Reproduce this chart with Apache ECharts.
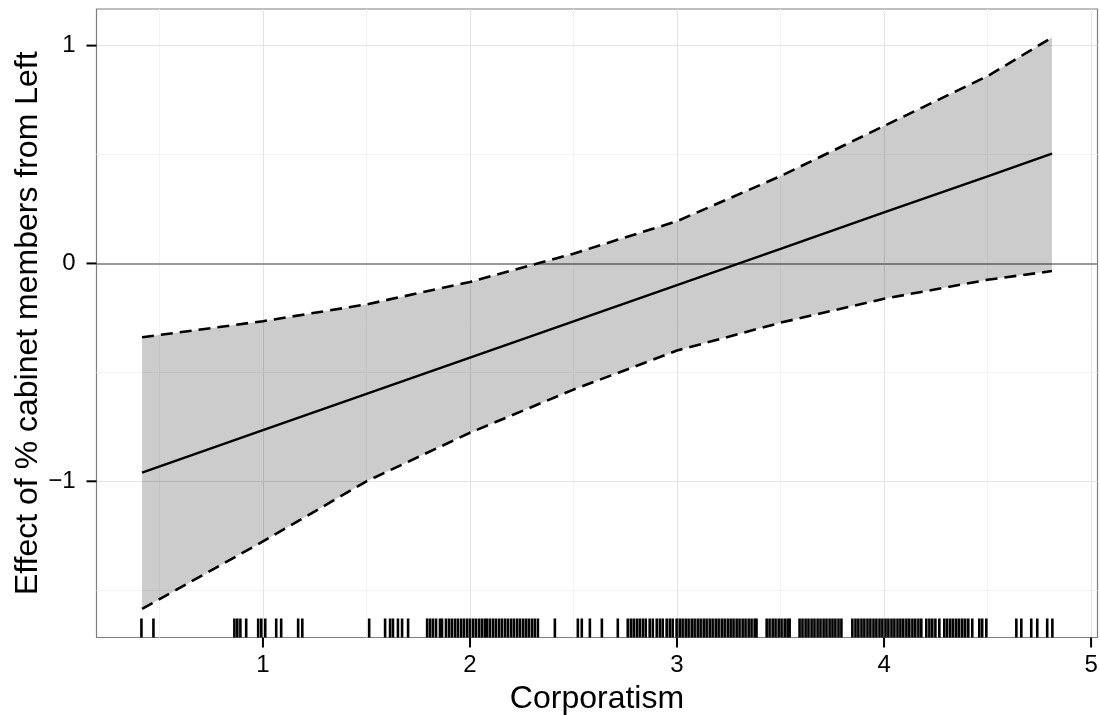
<!DOCTYPE html>
<html>
<head>
<meta charset="utf-8">
<script src="https://cdn.jsdelivr.net/npm/echarts@6/dist/echarts.min.js"></script>
<style>
  html, body { margin: 0; padding: 0; background: #fff; }
  #chart { width: 1100px; height: 715px; }
</style>
</head>
<body>
<div id="chart"></div>
<script>
// values
const xPoints = [0.416, 1, 1.5, 2, 2.5, 3, 3.5, 4, 4.5, 4.811];
const effect = [-0.96, -0.765, -0.599, -0.432, -0.266, -0.099, 0.067, 0.234, 0.400, 0.504];
const upper = [-0.339, -0.265, -0.188, -0.085, 0.045, 0.194, 0.401, 0.631, 0.860, 1.037];
const lower = [-1.586, -1.276, -1.0, -0.777, -0.579, -0.40, -0.272, -0.162, -0.075, -0.035];

// rug of observed corporatism scores
const rugX = [
  0.413, 0.471, 0.862, 0.876, 0.891, 0.919, 0.977, 0.992, 1.011, 1.064, 1.088, 1.170, 1.190,
  1.513, 1.590, 1.614, 1.628, 1.652, 1.672, 1.701,
  1.793, 1.807, 1.821, 1.836, 1.855, 1.865, 1.884, 1.899, 1.913,
  1.928, 1.942, 1.957, 1.971, 1.986, 2.000, 2.015, 2.029, 2.044, 2.058, 2.072, 2.082,
  2.096, 2.111, 2.125, 2.140, 2.154, 2.169, 2.183, 2.198, 2.212, 2.227, 2.241, 2.256, 2.270, 2.284, 2.299, 2.313, 2.328,
  2.410, 2.521, 2.540, 2.579, 2.637, 2.714,
  2.762, 2.777, 2.791, 2.806, 2.820, 2.835, 2.849, 2.868, 2.883, 2.902, 2.917,
  2.931, 2.950, 2.965, 2.979,
  2.998, 3.013, 3.027, 3.042, 3.056, 3.071, 3.085, 3.100, 3.114, 3.129, 3.143, 3.158, 3.172, 3.187,
  3.201, 3.216, 3.230, 3.245, 3.259, 3.273, 3.288, 3.302, 3.317, 3.331, 3.346, 3.360, 3.375, 3.384,
  3.433, 3.447, 3.462, 3.476, 3.491, 3.505, 3.520, 3.534, 3.544,
  3.592, 3.606, 3.621, 3.635, 3.650, 3.664, 3.679, 3.693, 3.708, 3.722, 3.737, 3.751, 3.765, 3.780, 3.794,
  3.847, 3.862, 3.876, 3.891, 3.905, 3.920, 3.934, 3.949, 3.963, 3.978,
  3.992, 4.007, 4.021, 4.036, 4.050, 4.065, 4.079, 4.093,
  4.108, 4.122, 4.137, 4.151, 4.166, 4.180,
  4.204, 4.219, 4.233, 4.248, 4.267,
  4.291, 4.305, 4.320, 4.334, 4.349, 4.363, 4.378, 4.392, 4.407, 4.426,
  4.460, 4.474, 4.494, 4.639, 4.663, 4.711, 4.740, 4.788, 4.813
];

const xTicks = [1, 2, 3, 4, 5];
const yTicks = [-1, 0, 1];
const xMinor = [0.5, 1.5, 2.5, 3.5, 4.5];
const yMinor = [-1.5, -0.5, 0.5];

const X_MIN = 0.196, X_MAX = 5.031;
const Y_MIN = -1.717, Y_MAX = 1.168;

const FONT = 'Liberation Sans, Arial, sans-serif';
const TICK_LEN = 10;

const chart = echarts.init(document.getElementById('chart'), null, { renderer: 'canvas' });

const gridLines = [
  ...xMinor.map(v => ({ xAxis: v, lineStyle: { color: '#f3f3f3', width: 1, type: 'solid' } })),
  ...yMinor.map(v => ({ yAxis: v, lineStyle: { color: '#f3f3f3', width: 1, type: 'solid' } })),
  ...xTicks.map(v => ({ xAxis: v, lineStyle: { color: '#e3e3e3', width: 1, type: 'solid' } })),
  ...yTicks.filter(v => v !== 0).map(v => ({ yAxis: v, lineStyle: { color: '#e3e3e3', width: 1, type: 'solid' } })),
  { yAxis: 0, lineStyle: { color: '#999999', width: 2, type: 'solid' } }
];

const minusFmt = v => (v < 0 ? '\u2212' + Math.abs(v) : String(v));

const dashed = { color: '#000', width: 2.6, type: [12, 7] };

const option = {
  animation: false,
  backgroundColor: '#ffffff',
  textStyle: { fontFamily: FONT },
  grid: {
    left: 96.5, right: 2.5, top: 9, bottom: 77.5,
    outerBoundsMode: 'none',
    containLabel: false,
    show: true, borderColor: '#7f7f7f', borderWidth: 1.2, backgroundColor: 'transparent'
  },
  xAxis: {
    type: 'value',
    min: X_MIN, max: X_MAX,
    name: 'Corporatism',
    nameLocation: 'middle',
    nameGap: 46,
    nameMoveOverlap: false,
    nameTextStyle: { fontSize: 32, color: '#000', fontFamily: FONT },
    axisLine: { show: false, onZero: false },
    splitLine: { show: false },
    axisTick: { show: false },
    axisLabel: { customValues: xTicks, fontSize: 24, color: '#000', margin: 15.5, fontFamily: FONT, formatter: minusFmt }
  },
  yAxis: {
    type: 'value',
    min: Y_MIN, max: Y_MAX,
    name: 'Effect of % cabinet members from Left',
    nameLocation: 'middle',
    nameGap: 52,
    nameMoveOverlap: false,
    nameTextStyle: { fontSize: 32, color: '#000', fontFamily: FONT },
    axisLine: { show: false, onZero: false },
    splitLine: { show: false },
    axisTick: { show: false },
    axisLabel: { customValues: yTicks, fontSize: 24, color: '#000', margin: 21, fontFamily: FONT, formatter: minusFmt }
  },
  series: [
    {
      // background grid + zero reference line
      type: 'line',
      data: [],
      z: 1,
      silent: true,
      markLine: { z: 1, silent: true, symbol: ['none', 'none'], label: { show: false }, data: gridLines, animation: false }
    },
    {
      // confidence ribbon: upper edge left to right, then lower edge back
      name: 'ribbon',
      type: 'custom',
      z: 2,
      silent: true,
      data: [[xPoints[0], lower[0]]],
      renderItem: (params, api) => {
        const pts = [];
        xPoints.forEach((x, i) => pts.push(api.coord([x, upper[i]])));
        for (let i = xPoints.length - 1; i >= 0; i--) pts.push(api.coord([xPoints[i], lower[i]]));
        return { type: 'polygon', shape: { points: pts }, style: { fill: 'rgba(0,0,0,0.2)' } };
      }
    },
    {
      name: 'upper',
      type: 'line',
      z: 3,
      showSymbol: false,
      data: xPoints.map((x, i) => [x, upper[i]]),
      lineStyle: dashed
    },
    {
      name: 'lower',
      type: 'line',
      z: 3,
      showSymbol: false,
      data: xPoints.map((x, i) => [x, lower[i]]),
      lineStyle: dashed
    },
    {
      name: 'effect',
      type: 'line',
      z: 4,
      showSymbol: false,
      data: xPoints.map((x, i) => [x, effect[i]]),
      lineStyle: { color: '#000', width: 2.4 }
    },
    {
      name: 'rug',
      type: 'custom',
      z: 5,
      data: rugX.map(v => [v, Y_MIN]),
      renderItem: (params, api) => {
        const p = api.coord([api.value(0), Y_MIN]);
        return {
          type: 'line',
          shape: { x1: p[0], y1: p[1], x2: p[0], y2: p[1] - 19 },
          style: { stroke: '#000', lineWidth: 2.6 }
        };
      }
    },
    {
      // outward tick marks on the x axis
      name: 'xTickMarks',
      type: 'scatter',
      clip: false,
      silent: true,
      z: 10,
      symbol: 'rect',
      symbolSize: [2, TICK_LEN],
      symbolOffset: [0, TICK_LEN / 2],
      itemStyle: { color: '#000', opacity: 1 },
      data: xTicks.map(v => [v, Y_MIN])
    },
    {
      // outward tick marks on the y axis
      name: 'yTickMarks',
      type: 'scatter',
      clip: false,
      silent: true,
      z: 10,
      symbol: 'rect',
      symbolSize: [TICK_LEN, 2],
      symbolOffset: [-TICK_LEN / 2, 0],
      itemStyle: { color: '#000', opacity: 1 },
      data: yTicks.map(v => [X_MIN, v])
    }
  ]
};

chart.setOption(option);
</script>
</body>
</html>
